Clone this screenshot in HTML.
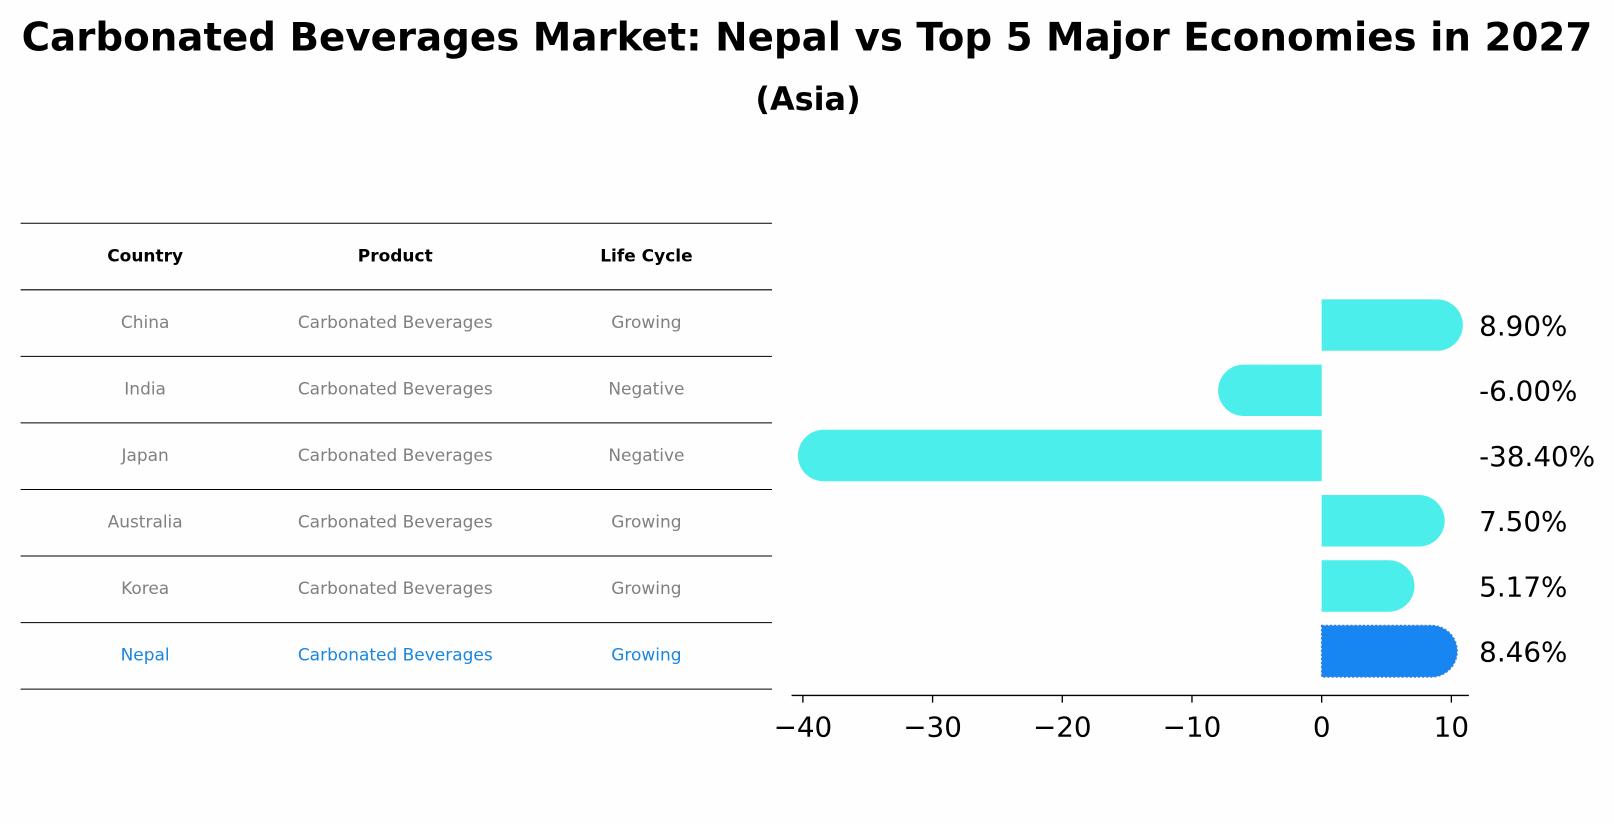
<!DOCTYPE html>
<html><head><meta charset="utf-8"><style>
body{margin:0;background:#fff;font-family:"Liberation Sans","DejaVu Sans",sans-serif;}
#wrap{position:relative;width:1614px;height:823px;overflow:hidden;background:#fefefe}
</style></head><body>
<div id="wrap">
<svg id="svg" width="1614" height="823" viewBox="0 0 1568 800" preserveAspectRatio="none" xmlns="http://www.w3.org/2000/svg">
<text x="784" y="49" text-anchor="middle" font-family="DejaVu Sans, Liberation Sans, sans-serif" font-weight="bold" font-size="38" textLength="1526" lengthAdjust="spacingAndGlyphs">Carbonated Beverages Market: Nepal vs Top 5 Major Economies in 2027</text>
<text x="785" y="107" text-anchor="middle" font-family="DejaVu Sans, Liberation Sans, sans-serif" font-weight="bold" font-size="31">(Asia)</text>
<g id="table"></g>
<g id="bars"></g>
</svg>
</div>
<script>
const countries=["China","India","Japan","Australia","Korea","Nepal"];
const products=["Carbonated Beverages","Carbonated Beverages","Carbonated Beverages","Carbonated Beverages","Carbonated Beverages","Carbonated Beverages"];
const lifeCycles=["Growing","Negative","Negative","Growing","Growing","Growing"];
const values=[8.90,-6.00,-38.40,7.50,5.17,8.46];
const tickValues=[-40,-30,-20,-10,0,10];
const NS="http://www.w3.org/2000/svg";
function mk(tag,attrs,parent){const e=document.createElementNS(NS,tag);for(const k in attrs)e.setAttribute(k,attrs[k]);parent.appendChild(e);return e;}
const tbl=document.getElementById('table');
const rowY=i=>217+i*64.7;
for(let i=0;i<=7;i++){const l=mk('line',{x1:20,x2:750,y1:rowY(i),y2:rowY(i),stroke:'#000','stroke-width':1},tbl);

}
const colX=[141,384,628];
["Country","Product","Life Cycle"].forEach((h,j)=>{const t=mk('text',{x:colX[j],y:rowY(0)+37,'text-anchor':'middle','font-size':16.5,'font-weight':'bold','font-family':'DejaVu Sans, Liberation Sans, sans-serif'},tbl);t.textContent=h;

});
countries.forEach((c,i)=>{const col=i===countries.length-1?'#1a86e0':'#808080';
[c,products[i],lifeCycles[i]].forEach((v,j)=>{const t=mk('text',{x:colX[j],y:rowY(i+1)+37,'text-anchor':'middle','font-size':16.5,fill:col,'font-family':'DejaVu Sans, Liberation Sans, sans-serif'},tbl);t.textContent=v;

});});
const g=document.getElementById('bars');
const x=v=>1284+v*12.6;
const yc=i=>316+i*63.4;
const r=25;
values.forEach((v,i)=>{const isN=i===values.length-1;const col=isN?'#1785f2':'#4beeea';
const x0=x(0),x1=x(v);let d;
if(v>=0){d=`M${x0},${yc(i)-r} L${x1},${yc(i)-r} A${r},${r} 0 0 1 ${x1},${yc(i)+r} L${x0},${yc(i)+r} Z`;}
else{d=`M${x0},${yc(i)-r} L${x1},${yc(i)-r} A${r},${r} 0 0 0 ${x1},${yc(i)+r} L${x0},${yc(i)+r} Z`;}
const p=mk('path',{d:d,fill:col},g);
if(isN){p.setAttribute('stroke','#3a7fd0');p.setAttribute('stroke-dasharray','2,2');p.setAttribute('stroke-width','1.5');}


const t=mk('text',{x:1437,y:yc(i)+10,'font-size':27,'font-family':'DejaVu Sans, Liberation Sans, sans-serif'},g);t.textContent=v.toFixed(2)+'%';

});
const ax=mk('line',{x1:769,x2:1427,y1:676,y2:676,stroke:'#000','stroke-width':1.3},g);


tickValues.forEach(tv=>{const tk=mk('line',{x1:x(tv),x2:x(tv),y1:676,y2:683,stroke:'#000','stroke-width':1.3},g);


const t=mk('text',{x:x(tv),y:716,'text-anchor':'middle','font-size':27,'font-family':'DejaVu Sans, Liberation Sans, sans-serif'},g);t.textContent=tv<0?'\u2212'+Math.abs(tv):String(tv);

});
</script>
</body></html>
